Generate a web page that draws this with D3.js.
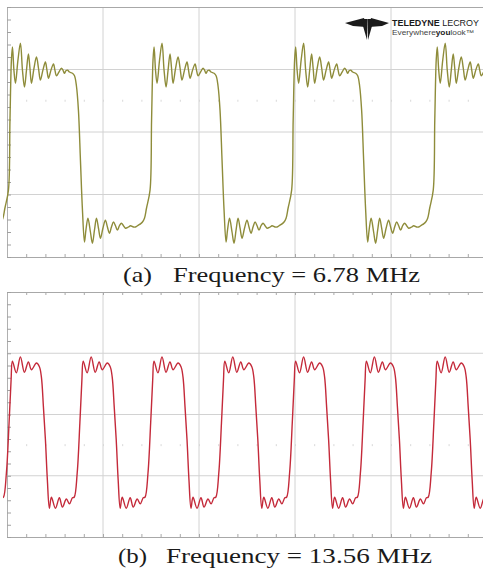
<!DOCTYPE html>
<html>
<head>
<meta charset="utf-8">
<script src="https://cdn.jsdelivr.net/npm/d3@7"></script>
<style>
  body { margin: 0; background: #fff; }
  svg { display: block; }
  .cap { font-family: "Liberation Serif", "Times New Roman", serif; font-size: 21px; fill: #1a1a1a; }
  .logo { font-family: "Liberation Sans Narrow", "Liberation Sans", Arial, sans-serif; }
</style>
</head>
<body>
<div id="chart"></div>
<script>
// time base: 100 ns/div, vertical in divisions
const timeGrid = [0, 100, 200, 300, 400, 500];
const voltGrid = [-2, -1, 0, 1, 2];

// one measured cycle of the 6.78 MHz trace: [ns from rising edge, div]
const cycleA = [
  [0, -0.93], [1.6, 0.19], [3.1, 1.15], [4.2, 1.36], [5.7, 0.99], [7.3, 0.78],
  [9.9, 1.15], [12.5, 1.42], [14.6, 0.99], [16.7, 0.72], [18.8, 0.99], [20.8, 1.25],
  [22.4, 1.02], [24.0, 0.78], [26.6, 1.02], [29.2, 1.20], [31.3, 1.02], [33.3, 0.83],
  [35.9, 0.99], [38.5, 1.12], [40.1, 0.99], [41.7, 0.86], [44.3, 0.99], [46.9, 1.09],
  [48.4, 0.99], [50.0, 0.90], [52.6, 0.96], [55.2, 1.02], [56.8, 0.99], [58.3, 0.94],
  [59.9, 0.98], [61.5, 0.99], [63.5, 0.96], [66.7, 0.94], [68.8, 0.90], [70.8, 0.74],
  [72.9, 0.35], [75.0, -0.45], [77.1, -1.25], [79.2, -1.76], [80.7, -1.57], [82.8, -1.38],
  [85.4, -1.60], [87.5, -1.78], [89.6, -1.57], [91.7, -1.38], [93.8, -1.54], [95.8, -1.70],
  [98.4, -1.54], [101.0, -1.41], [103.1, -1.52], [105.2, -1.62], [107.3, -1.52], [109.4, -1.44],
  [111.5, -1.50], [113.5, -1.57], [115.6, -1.50], [117.7, -1.46], [119.8, -1.50], [121.9, -1.54],
  [125.0, -1.52], [127.1, -1.50], [130.2, -1.52], [132.3, -1.52], [135.4, -1.49], [137.5, -1.47],
  [139.6, -1.44], [141.7, -1.38], [143.8, -1.22]
];
const edgesA = [-146, 1.5, 149, 296.5, 444];

// one measured cycle of the 13.56 MHz trace
const cycleB = [
  [0, -1.35], [3.1, -0.96], [5.9, -0.14], [8.0, 0.56], [9.4, 0.87], [13.5, 0.68],
  [17.7, 0.94], [21.9, 0.69], [26.0, 0.86], [29.2, 0.73], [34.4, 0.84], [37.5, 0.78],
  [39.6, 0.61], [41.7, 0.12], [43.8, -0.42], [45.8, -1.07], [47.9, -1.53], [50.0, -1.35],
  [54.2, -1.53], [58.3, -1.36], [61.5, -1.51], [65.6, -1.38], [68.8, -1.46], [71.9, -1.36]
];
const edgesB = [-77.5, -3.75, 70, 143.75, 217.5, 291.25, 365, 438.75];

const captionA = ["(a)", "Frequency = 6.78 MHz"];
const captionB = ["(b)", "Frequency = 13.56 MHz"];

const width = 483, height = 569;
const svg = d3.select("#chart").append("svg")
  .attr("width", width).attr("height", height)
  .style("background", "white");

const x = d3.scaleLinear().domain([0, 500]).range([7, 487]);
const minorT = d3.range(0, 501, 20);
const minorV = d3.range(-2, 2.001, 0.2);

function trace(cycle, edges) {
  const pts = [];
  edges.forEach(e => cycle.forEach(([t, v]) => pts.push([e + t, v])));
  return pts;
}

function panel(id, top, bottom, cycle, edges, color, dotV, caption, capY, capX) {
  const y = d3.scaleLinear().domain([-2, 2]).range([bottom, top]);
  const g = svg.append("g");

  // grid
  g.selectAll(".vg").data(timeGrid.slice(1)).join("line")
    .attr("x1", d => x(d)).attr("x2", d => x(d))
    .attr("y1", top).attr("y2", bottom)
    .attr("stroke", "#d2d2d2").attr("stroke-width", 1);
  g.selectAll(".hg").data(voltGrid.slice(1, -1)).join("line")
    .attr("x1", 7).attr("x2", width)
    .attr("y1", d => y(d)).attr("y2", d => y(d))
    .attr("stroke", "#d2d2d2").attr("stroke-width", 1);

  // faint minor tick row
  g.append("g")
    .attr("transform", `translate(0,${y(dotV)})`)
    .call(d3.axisBottom(x).tickValues(minorT).tickSize(2).tickFormat(""))
    .call(a => a.select(".domain").remove())
    .call(a => a.selectAll("line").attr("stroke", "#d8d8d8").attr("transform", "translate(0,-1)"));

  // borders with ticks
  g.append("g")
    .attr("transform", `translate(0,${top})`)
    .call(d3.axisBottom(x).tickValues(minorT).tickSizeInner(id === "b" ? 3 : 0).tickSizeOuter(0).tickFormat(""))
    .call(a => a.select(".domain").attr("stroke", "#a8a8a8"))
    .call(a => a.selectAll("line").attr("stroke", "#a8a8a8"));
  g.append("g")
    .attr("transform", `translate(0,${bottom})`)
    .call(d3.axisTop(x).tickValues(minorT).tickSizeInner(3).tickSizeOuter(0).tickFormat(""))
    .call(a => a.select(".domain").attr("stroke", "#a8a8a8"))
    .call(a => a.selectAll("line").attr("stroke", "#a8a8a8"));
  g.append("g")
    .attr("transform", `translate(${x(0)},0)`)
    .call(d3.axisRight(y).tickValues(minorV).tickSizeInner(4).tickSizeOuter(0).tickFormat(""))
    .call(a => a.select(".domain").attr("stroke", "#b0b0b0"))
    .call(a => a.selectAll("line").attr("stroke", "#a0a0a0"));

  // trace
  svg.append("clipPath").attr("id", "clip-" + id)
    .append("rect").attr("x", 3).attr("y", top).attr("width", width - 3).attr("height", bottom - top);
  const line = d3.line()
    .x(d => x(d[0])).y(d => y(d[1]))
    .curve(d3.curveCatmullRom.alpha(0.5));
  g.append("path")
    .datum(trace(cycle, edges))
    .attr("clip-path", `url(#clip-${id})`)
    .attr("fill", "none")
    .attr("stroke", color)
    .attr("stroke-width", 1.4)
    .attr("d", line);

  // caption
  g.append("text").attr("class", "cap")
    .attr("x", capX[0]).attr("y", capY)
    .attr("textLength", capX[1]).attr("lengthAdjust", "spacingAndGlyphs")
    .text(caption[0]);
  g.append("text").attr("class", "cap")
    .attr("x", capX[2]).attr("y", capY)
    .attr("textLength", capX[3]).attr("lengthAdjust", "spacingAndGlyphs")
    .text(caption[1]);
}

panel("a", 7, 257, cycleA, edgesA, "#8e8c3a", 0.5, captionA, 282, [123, 29, 173, 247]);
panel("b", 292, 537, cycleB, edgesB, "#c42a3a", -0.5, captionB, 563, [118, 29, 166, 266]);

// Teledyne LeCroy logo
const logo = svg.append("g").attr("fill", "#1a1a1a");
logo.append("path").attr("d", "M345,23 L364,18 L366,27 L353,26 Z");
logo.append("path").attr("d", "M389,23 L371,18 L369,27 L382,26 Z");
logo.append("path").attr("d", "M361,19 L367.5,19 L367,40 Z");
logo.append("path").attr("d", "M367.5,19 L374,19 L368,40 Z");

function logoText(txt, x0, y0, len, size, weight, fill) {
  logo.append("text").attr("class", "logo")
    .attr("x", x0).attr("y", y0)
    .attr("font-size", size).attr("font-weight", weight).attr("fill", fill)
    .attr("textLength", len).attr("lengthAdjust", "spacingAndGlyphs")
    .text(txt);
}
// one line per row so the pieces do not stack on each other
logo.append("text").attr("class", "logo")
  .attr("x", 392).attr("y", 26)
  .attr("font-size", 9)
  .attr("textLength", 87).attr("lengthAdjust", "spacingAndGlyphs")
  .call(t => t.append("tspan").attr("font-weight", "bold").text("TELEDYNE"))
  .call(t => t.append("tspan").text(" LECROY"));
logo.append("text").attr("class", "logo")
  .attr("x", 392).attr("y", 35)
  .attr("font-size", 7).attr("fill", "#444")
  .attr("textLength", 82).attr("lengthAdjust", "spacingAndGlyphs")
  .call(t => t.append("tspan").text("Everywhere"))
  .call(t => t.append("tspan").attr("font-weight", "bold").attr("fill", "#222").text("you"))
  .call(t => t.append("tspan").text("look™"));
</script>
</body>
</html>
